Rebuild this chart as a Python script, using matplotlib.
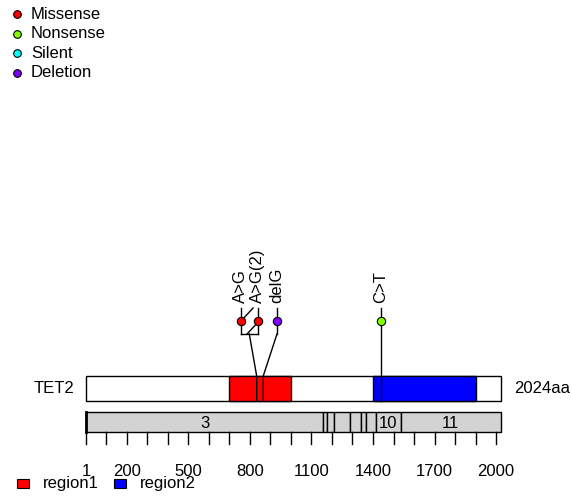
import matplotlib
matplotlib.use("Agg")
import matplotlib.pyplot as plt
from matplotlib.patches import Rectangle

plt.rcParams['font.family'] = ['Liberation Sans', 'DejaVu Sans']

# protein
gene_name = 'TET2'
protein_len = 2024

# domains
domain_names = ['region1', 'region2']
domain_start = [700, 1400]
domain_end = [1000, 1900]
domain_colors = ['#FF0000', '#0000FF']

# exons (numbered 3..11)
exon_names = ['3', '4', '5', '6', '7', '8', '9', '10', '11']
exon_start = [1, 1158, 1177, 1210, 1289, 1340, 1366, 1413, 1535]
exon_end = [1158, 1177, 1210, 1289, 1340, 1366, 1413, 1535, 2024]

# mutations
mut_labels = ['A>G', 'A>G(2)', 'delG', 'C>T']
mut_pos = [833, 833, 865, 1437]
mut_shown = [755, 839, 932, 1437]   # spread-out positions of the heads
mut_type = ['Missense', 'Missense', 'Deletion', 'Nonsense']

type_names = ['Missense', 'Nonsense', 'Silent', 'Deletion']
type_colors = ['#FF0000', '#80FF00', '#00FFFF', '#8000FF']

tick_pos = [1] + list(range(100, 2001, 100))
tick_labels = [1, 200, 500, 800, 1100, 1400, 1700, 2000]

# ---- layout (pixels from the top, x mapped to aa) ----
W, H = 572, 499
px_left, px_right = 86, 501
s = (px_right - px_left) / (protein_len - 1)


def aa(px):
    return 1 + (px - px_left) / s


fig = plt.figure(figsize=(W / 100, H / 100), dpi=100)
ax = fig.add_axes([0, 0, 1, 1])
ax.set_xlim(aa(0), aa(W))
ax.set_ylim(H, 0)
ax.axis('off')

prot_top, prot_bot = 376, 401
exon_top, exon_bot = 412, 432
head_y, stick_top, bracket_y = 321, 308, 334
type_col = dict(zip(type_names, type_colors))

# protein box + domains
ax.add_patch(Rectangle((1, prot_top), protein_len - 1, prot_bot - prot_top,
                       facecolor='white', edgecolor='black', lw=1, zorder=1))
for st, en, c in zip(domain_start, domain_end, domain_colors):
    ax.add_patch(Rectangle((st, prot_top), en - st, prot_bot - prot_top,
                           facecolor=c, edgecolor='black', lw=1, zorder=2))
ax.text(aa(74), (prot_top + prot_bot) / 2, gene_name, ha='right', va='center', fontsize=12)
ax.text(aa(514), (prot_top + prot_bot) / 2, f'{protein_len}aa', ha='left', va='center', fontsize=12)

# exon track
for nm, st, en in zip(exon_names, exon_start, exon_end):
    ax.add_patch(Rectangle((st, exon_top), en - st, exon_bot - exon_top,
                           facecolor='#D3D3D3', edgecolor='black', lw=1, zorder=2))
    if en - st > 100:
        ax.text((st + en) / 2, (exon_top + exon_bot) / 2 + 1, nm, ha='center', va='center', fontsize=12)
ax.plot([1, 1], [exon_top, exon_bot], color='black', lw=2, zorder=3)

# axis ticks
for t in tick_pos:
    ax.plot([t, t], [exon_bot, 444], color='black', lw=1)
for t in tick_labels:
    ax.text(t, 471, str(t), ha='center', va='center', fontsize=12)

# lollipops
groups = {}
for i, p in enumerate(mut_pos):
    groups.setdefault(p, []).append(i)

for p, idx in groups.items():
    xs = [mut_shown[i] for i in idx]
    for i in idx:
        low = bracket_y if (len(idx) > 1 or mut_shown[i] != p) else head_y
        ax.plot([mut_shown[i], mut_shown[i]], [stick_top, low], color='black', lw=1, zorder=3)
    if len(idx) > 1:
        x0, x1 = min(xs), max(xs)
        w, h = x1 - x0, bracket_y - stick_top
        ax.plot([x0, x1], [bracket_y, bracket_y], color='black', lw=1, zorder=3)
        # hatch strokes marking same-position mutations
        ax.plot([x0 + 0.2 * w, x0 + 0.72 * w], [stick_top + 0.37 * h, stick_top], color='black', lw=1, zorder=3)
        ax.plot([x0 + 0.37 * w, x1], [bracket_y, stick_top + 0.55 * h], color='black', lw=1, zorder=3)
    top_x = sum(xs) / len(xs)
    top_y = bracket_y if top_x != p else head_y
    ax.plot([top_x, p, p], [top_y, prot_top, prot_bot], color='black', lw=1, zorder=4)

for lab, x, t in zip(mut_labels, mut_shown, mut_type):
    ax.plot(x, head_y, 'o', ms=6, mfc=type_col[t], mec='black', mew=0.8, zorder=5)
    ax.text(x, 303, lab, rotation=90, ha='center', va='bottom', fontsize=12)

# type legend (top left)
for k, (nm, c) in enumerate(zip(type_names, type_colors)):
    y = 14.3 + k * 19.5
    ax.plot(aa(17), y, 'o', ms=5.5, mfc=c, mec='black', mew=0.8)
    ax.text(aa(31), y, nm, ha='left', va='center', fontsize=12)

# domain legend (bottom)
for k, (nm, c) in enumerate(zip(domain_names, domain_colors)):
    x0 = 17 + k * 97
    ax.add_patch(Rectangle((aa(x0), 479), 12 / s, 9, facecolor=c, edgecolor='black', lw=0.8))
    ax.text(aa(x0 + 26), 483.5, nm, ha='left', va='center', fontsize=12)

fig.savefig('out.png', dpi=100)
